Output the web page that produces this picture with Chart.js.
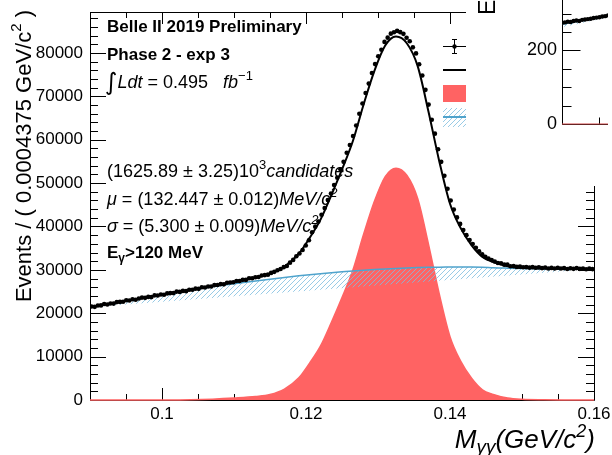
<!DOCTYPE html>
<html><head><meta charset="utf-8">
<script src="https://cdn.jsdelivr.net/npm/chart.js@4.4.1/dist/chart.umd.min.js"></script>
<style>
html,body{margin:0;padding:0;background:#fff;overflow:hidden;width:612px;height:455px}
#wrap{position:relative;width:612px;height:455px}
#main{position:absolute;left:0;top:0}
#inset{position:absolute;left:466px;top:0;background:#fff}
</style></head><body>
<div id="wrap"><canvas id="main" width="612" height="455"></canvas><canvas id="inset" width="146" height="186"></canvas></div>
<script>
// ---------- data ----------
const binWidth = 0.0004375;
const xMin = 0.09, xMax = 0.16;
const dataCounts = [
21560,21470,21780,21810,22130,22010,22260,22220,22570,22620,
22640,22990,22940,23210,23120,23410,23610,23550,23770,23720,
24130,24100,24310,24260,24580,24640,24650,24990,24920,25150,
25090,25430,25430,25670,25620,26000,25920,26150,26150,26490,
26500,26720,26660,27020,27080,27130,27450,27450,27700,27690,
28060,28060,28310,28350,28690,28800,28900,29300,29540,29920,
30210,30630,30890,31670,32300,33130,33780,34590,35610,36830,
38660,39970,41130,42720,44240,46080,47620,49580,51230,53190,
54900,56990,58780,60880,63300,65980,68350,70770,72940,75400,
77440,79250,80750,82560,83540,84460,84780,85090,84800,84410,
83510,82700,81300,79900,77400,74800,71500,68100,64600,61400,
57800,54900,51700,48700,46000,43900,42100,40600,39200,38000,
36900,35950,35100,34300,33600,33000,32600,32250,31930,31600,
31540,31200,31210,30850,30860,30680,30740,30590,30640,30520,
30650,30490,30610,30410,30540,30330,30460,30330,30500,30320,
30410,30200,30360,30230,30410,30230,30320,30140,30280,30180];
const curveX = [0.09,0.095,0.10,0.104,0.107,0.11,0.113,0.115,0.117,0.119,0.1205,0.122,0.1235,0.125,0.1265,0.128,0.1295,0.131,0.1325,0.134,0.1355,0.137,0.1385,0.14,0.1415,0.143,0.1445,0.146,0.148,0.15,0.153,0.156,0.16];
const totalFit = [21400,22870,24290,25390,26280,27230,28240,29110,30750,33720,37380,41520,47140,53150,59640,68120,75880,81720,83790,82240,77020,66580,55120,45240,39560,35660,33000,31800,30850,30480,30300,30230,30200];
const signalFit = [0,0,10,60,200,450,800,1250,2500,5100,8500,12400,17800,23600,29900,38200,45800,51500,53450,51800,46500,36000,24500,14600,8900,5000,2350,1300,450,150,40,10,0];
const backgroundFit = [21400,22870,24280,25330,26080,26780,27440,27860,28250,28620,28880,29120,29340,29550,29740,29920,30080,30220,30340,30440,30520,30580,30620,30640,30660,30660,30630,30500,30400,30330,30260,30220,30200];
const chordX = [0.09, 0.16];
const chordY = [21400, 30200];
const xTickLabels = [0.1, 0.12, 0.14, 0.16];
const yTickLabels = [0,10000,20000,30000,40000,50000,60000,70000,80000];
// inset
const insetX = [0,0.0625,0.125,0.1875,0.25,0.3125,0.375,0.4375,0.5,0.5625,0.625,0.6875,0.75,0.8125,0.875,0.9375,1];
const insetCounts = [275,276,278,277,280,281,280,283,284,285,286,288,289,290,292,293,295];
const insetFitX = [0,1], insetFitY = [273,295];
const insetBkgY = [271,294], insetChordY = [263,289];
const insetSigY = [0,0];
const insetYTickLabels = [0,200];

// ---------- helpers ----------
const F = '"Liberation Sans", Arial, sans-serif';
const pts = (xs, ys) => xs.map((x,i)=>({x, y:ys[i]}));
const binCenters = dataCounts.map((_,i)=> xMin + binWidth*(i+0.5));
function makeHatch(ctx, color){
  const c=document.createElement('canvas'); c.width=5; c.height=5;
  const g=c.getContext('2d'); g.strokeStyle=color; g.lineWidth=0.8;
  g.beginPath(); g.moveTo(0,5); g.lineTo(5,0); g.moveTo(-1,1); g.lineTo(1,-1); g.moveTo(4,6); g.lineTo(6,4); g.stroke();
  return ctx.createPattern(c,'repeat');
}
function rich(ctx, x, y, parts, align){
  let w=0; parts.forEach(p=>{ctx.font=p[1]; w+=ctx.measureText(p[0]).width;});
  let cx = align==='right' ? x-w : x;
  parts.forEach(p=>{ctx.font=p[1]; ctx.fillText(p[0], cx, y+(p[2]||0)); cx+=ctx.measureText(p[0]).width;});
}
const RED='#ff6363', BLUE='#4fa3cc', HATCH='#7dbee0';
const mainCtx = document.getElementById('main').getContext('2d');
const insetCtx = document.getElementById('inset').getContext('2d');
const hatchMain = makeHatch(mainCtx, HATCH);
const hatchInset = makeHatch(insetCtx, HATCH);
const noPad = s => { s.paddingTop=0; s.paddingBottom=0; s.paddingLeft=0; s.paddingRight=0; };

function drawTicksX(ctx, sc, a, vals, len){
  vals.forEach(v=>{ const px=Math.round(sc.getPixelForValue(v))+0.5;
    ctx.moveTo(px,a.bottom); ctx.lineTo(px,a.bottom-len);
    ctx.moveTo(px,a.top); ctx.lineTo(px,a.top+len); });
}
function drawTicksY(ctx, sc, a, vals, len){
  vals.forEach(v=>{ const py=Math.round(sc.getPixelForValue(v))+0.5;
    ctx.moveTo(a.left,py); ctx.lineTo(a.left+len,py);
    ctx.moveTo(a.right,py); ctx.lineTo(a.right-len,py); });
}
const xMinorTicks=[]; for(let k=0;k<=14;k++) xMinorTicks.push(+(0.09+0.005*k).toFixed(3));
const yMinorTicks=[]; for(let k=0;k<=44;k++) yMinorTicks.push(k*2000);

const framePlugin = {
  id:'frame',
  beforeDatasetsDraw(chart){
    const {ctx, chartArea:a, scales:{x,y}} = chart;
    ctx.save(); ctx.strokeStyle='#000'; ctx.lineWidth=1;
    ctx.beginPath();
    ctx.rect(Math.round(a.left)+0.5, Math.round(a.top)+0.5, Math.round(a.right-a.left), Math.round(a.bottom-a.top));
    drawTicksX(ctx,x,a,xMinorTicks,6);
    drawTicksX(ctx,x,a,xTickLabels,12);
    drawTicksY(ctx,y,a,yMinorTicks.filter(v=>v<=89000),8);
    drawTicksY(ctx,y,a,yTickLabels,16);
    ctx.stroke(); ctx.restore();
  },
  afterDraw(chart){
    const ctx=chart.ctx; ctx.save(); ctx.fillStyle='#000'; ctx.textAlign='left'; ctx.textBaseline='alphabetic';
    const B='bold 17px '+F, R='18px '+F, I='italic 18px '+F, S='13px '+F, SI='italic 13px '+F;
    rich(ctx,107,32,[['Belle II 2019 Preliminary',B]]);
    rich(ctx,107,60,[['Phase 2 - exp 3',B]]);
    rich(ctx,105,88,[['\u222B','italic 24px "DejaVu Sans"',2],['Ldt',I],[' = 0.495   ',R],['fb',I],['\u22121',S,-8]]);
    rich(ctx,107,177,[['(1625.89 \u00B1 3.25)10',R],['3',S,-8],['candidates',I]]);
    rich(ctx,107,205,[['\u03BC',I],[' = (132.447 \u00B1 0.012)',R],['MeV/c',I],['2',SI,-8]]);
    rich(ctx,107,232,[['\u03C3',I],[' = (5.300 \u00B1 0.009)',R],['MeV/c',I],['2',SI,-8]]);
    rich(ctx,107,258,[['E',B],['\u03B3','bold 12px '+F,4],['>120 MeV',B]]);
    // x title
    const T='italic 26px '+F;
    rich(ctx,595,448,[['M',T],['\u03B3\u03B3','italic 19px '+F,5],['(GeV/c',T],['2','italic 18px '+F,-11],[')',T]],'right');
    // y title
    ctx.save(); ctx.translate(31,10); ctx.rotate(-Math.PI/2);
    rich(ctx,0,0,[['Events / ( 0.0004375 GeV/c','22px '+F],['2','15px '+F,-10],[' )','22px '+F]],'right');
    ctx.restore();
    // legend symbols
    ctx.strokeStyle='#000'; ctx.lineWidth=1; ctx.beginPath();
    ctx.moveTo(443,46.5); ctx.lineTo(466,46.5);
    ctx.moveTo(454.5,39); ctx.lineTo(454.5,54);
    ctx.moveTo(452,39.5); ctx.lineTo(457,39.5); ctx.moveTo(452,53.5); ctx.lineTo(457,53.5);
    ctx.stroke();
    ctx.beginPath(); ctx.arc(454.5,46.5,2.2,0,Math.PI*2); ctx.fill();
    ctx.lineWidth=2; ctx.beginPath(); ctx.moveTo(443,70); ctx.lineTo(466,70); ctx.stroke();
    ctx.fillStyle=RED; ctx.fillRect(443,85,23,17);
    ctx.fillStyle=hatchMain; ctx.fillRect(443,108,23,19);
    ctx.strokeStyle=BLUE; ctx.lineWidth=2; ctx.beginPath(); ctx.moveTo(443,117); ctx.lineTo(466,117); ctx.stroke();
    ctx.restore();
  }
};

new Chart(mainCtx, {
  type:'line',
  data:{datasets:[
    {label:'Data', data:pts(binCenters,dataCounts), showLine:false, pointRadius:2.3, pointBackgroundColor:'#000', pointBorderWidth:0, order:0},
    {label:'Fit', data:pts(curveX,totalFit), borderColor:'#000', borderWidth:2, pointRadius:0, cubicInterpolationMode:'monotone', fill:false, order:1},
    {label:'Background', data:pts(curveX,backgroundFit), borderColor:BLUE, borderWidth:1.5, pointRadius:0, cubicInterpolationMode:'monotone', fill:{target:3}, backgroundColor:hatchMain, order:2},
    {label:'chord', data:pts(chordX,chordY), borderColor:'rgba(0,0,0,0)', borderWidth:0, pointRadius:0, fill:false, tension:0, order:3},
    {label:'Signal', data:pts(curveX,signalFit), borderColor:RED, borderWidth:1.5, backgroundColor:RED, fill:'origin', pointRadius:0, cubicInterpolationMode:'monotone', order:4, clip:false}
  ]},
  options:{
    animation:false, responsive:false, devicePixelRatio:1,
    layout:{padding:{top:12,right:18,left:0,bottom:0}},
    plugins:{legend:{display:false}, tooltip:{enabled:false}},
    scales:{
      x:{type:'linear', min:xMin, max:xMax, grid:{display:false,drawTicks:false}, border:{display:false},
         afterBuildTicks:s=>{s.ticks=xTickLabels.map(v=>({value:v}));},
         ticks:{padding:4, font:{family:F,size:17}, color:'#000', maxRotation:0, autoSkip:false, callback:v=>String(v)},
         afterFit:s=>{s.height=55; noPad(s);}},
      y:{type:'linear', min:0, max:89450, grid:{display:false,drawTicks:false}, border:{display:false},
         afterBuildTicks:s=>{s.ticks=yTickLabels.map(v=>({value:v}));},
         ticks:{padding:7, font:{family:F,size:17}, color:'#000', autoSkip:false, callback:v=>String(v)},
         afterFit:s=>{s.width=90; noPad(s);}}
    }
  },
  plugins:[framePlugin]
});

// ---------- inset ----------
const insetFrame = {
  id:'insetFrame',
  beforeDatasetsDraw(chart){
    const {ctx, chartArea:a, scales:{x,y}} = chart;
    ctx.save(); ctx.strokeStyle='#000'; ctx.lineWidth=1; ctx.beginPath();
    const L=Math.round(a.left)+0.5, Bt=Math.round(a.bottom)+0.5;
    ctx.moveTo(L,0); ctx.lineTo(L,Bt); ctx.lineTo(a.right,Bt);
    [50,100,150,250,300].forEach(v=>{const py=Math.round(y.getPixelForValue(v))+0.5; ctx.moveTo(L,py); ctx.lineTo(L+9,py);});
    insetYTickLabels.forEach(v=>{const py=Math.round(y.getPixelForValue(v))+0.5; ctx.moveTo(L,py); ctx.lineTo(L+18,py);});
    const px=Math.round(x.getPixelForValue(0.8))+0.5; ctx.moveTo(px,Bt); ctx.lineTo(px,Bt-7);
    ctx.stroke(); ctx.restore();
  },
  afterDraw(chart){
    const ctx=chart.ctx; ctx.save(); ctx.fillStyle='#000'; ctx.textBaseline='alphabetic';
    ctx.translate(29,15); ctx.rotate(-Math.PI/2);
    rich(ctx,0,0,[['Events / ( 0.0004375 GeV/c','23px '+F]]);
    ctx.restore();
  }
};
new Chart(insetCtx, {
  type:'line',
  data:{datasets:[
    {data:pts(insetX,insetCounts), showLine:false, pointRadius:2.2, pointBackgroundColor:'#000', pointBorderWidth:0, order:0},
    {data:pts(insetFitX,insetFitY), borderColor:'#000', borderWidth:1.5, pointRadius:0, fill:false, order:1},
    {data:pts(insetFitX,insetBkgY), borderColor:BLUE, borderWidth:1.5, pointRadius:0, fill:{target:3}, backgroundColor:hatchInset, order:2},
    {data:pts(insetFitX,insetChordY), borderColor:'rgba(0,0,0,0)', borderWidth:0, pointRadius:0, fill:false, order:3},
    {data:pts(insetFitX,insetSigY), borderColor:'#d04848', borderWidth:1.2, pointRadius:0, fill:false, order:4, clip:false}
  ]},
  options:{
    animation:false, responsive:false, devicePixelRatio:1,
    layout:{padding:0},
    plugins:{legend:{display:false}, tooltip:{enabled:false}},
    scales:{
      x:{type:'linear', min:0, max:1, grid:{display:false,drawTicks:false}, border:{display:false}, ticks:{display:false}, afterFit:s=>{s.height=62; noPad(s);}},
      y:{type:'linear', min:0, max:326, grid:{display:false,drawTicks:false}, border:{display:false},
         afterBuildTicks:s=>{s.ticks=insetYTickLabels.map(v=>({value:v}));},
         ticks:{padding:5, font:{family:F,size:18}, color:'#000', callback:v=>String(v)},
         afterFit:s=>{s.width=96; noPad(s);}}
    }
  },
  plugins:[insetFrame]
});
</script>
</body></html>
